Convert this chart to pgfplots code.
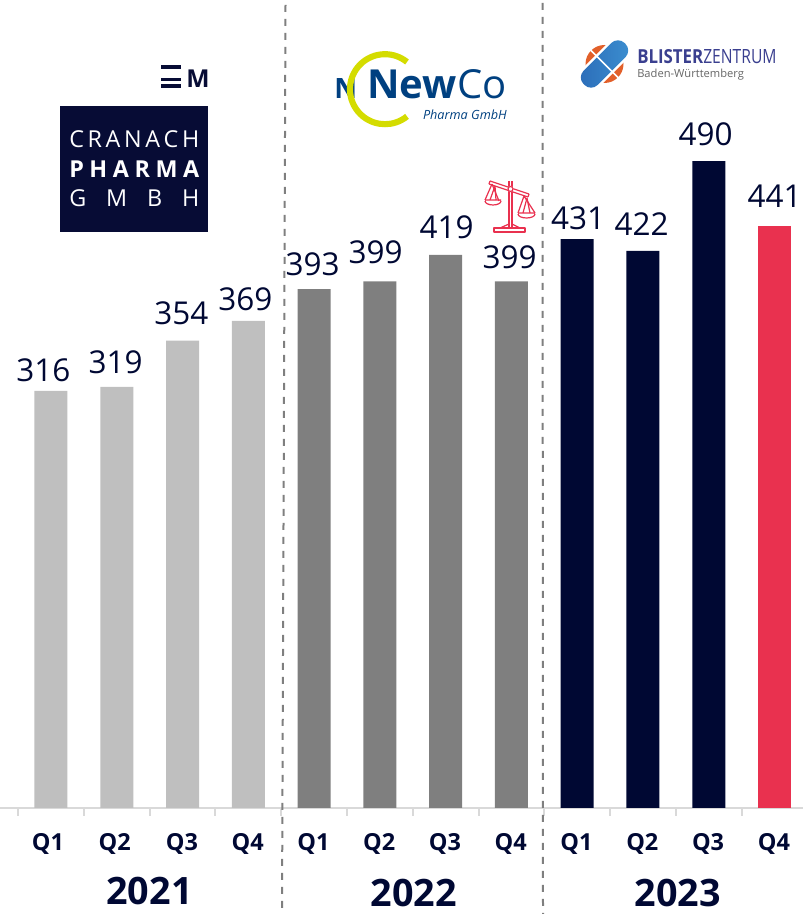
\documentclass[border=0pt]{standalone}
\usepackage{fontspec}
\setmainfont{Open Sans}
\usepackage{graphicx}
\usepackage{pgfplots}
\pgfplotsset{compat=1.18}
\usepackage{pgfplotstable}
\definecolor{navy}{HTML}{000833}
\definecolor{navyb}{HTML}{070C35}
\definecolor{lg}{HTML}{BFBFBF}
\definecolor{dg}{HTML}{7F7F7F}
\definecolor{redbar}{HTML}{E9314F}
\definecolor{axisg}{HTML}{D9D9D9}
\definecolor{lime}{HTML}{D4DC00}
\definecolor{newblue}{HTML}{004080}
\definecolor{blisterb}{HTML}{3A3F8F}
\definecolor{pillorange}{HTML}{E2602A}
\definecolor{pilla}{HTML}{2B6CB8}
\definecolor{pillb}{HTML}{3C8FD0}
\pgfplotstableread{
x y v
-0.114 331.8 316
0.981 337.9 319
1.984 375 354
2.957 385.6 369
3.976 412.1 393
4.934 421.2 399
6.013 440.2 419
6.971 417.4 399
8.013 447 431
8.978 442.4 422
9.952 510.6 490
11.0 463.6 441
}\labeltable
\begin{document}
\begin{tikzpicture}
\useasboundingbox (0,0) rectangle (602.25pt,685.5pt);
\begin{axis}[
  at={(0,0)}, anchor=south west,
  scale only axis, width=602.25pt, height=685.5pt,
  xmin=-0.775, xmax=11.433, ymin=-80.3, ymax=612.1,
  clip=false,
  axis x line=middle, axis y line=none,
  axis line style={-, draw=axisg, line width=1.5pt},
  xtick={0,...,11},
  xticklabels={\hspace{-3.5pt}Q1,\hspace{-2pt}Q2,Q3,Q4,Q1,Q2,Q3,Q4,Q1,Q2,Q3,Q4},
  major tick length=0pt,
  minor xtick={-0.5,0.5,...,11.5},
  minor tick length=6pt,
  tick align=outside,
  minor tick style={draw=axisg, line width=1.5pt},
  xticklabel style={font=\fontsize{17.6}{18}\selectfont\bfseries, text=navy, anchor=center, yshift=-27.3pt, xshift=-0.5pt, inner sep=0pt},
  every node near coord/.append style={anchor=center, inner sep=0pt, font=\fontsize{23.6}{24}\selectfont, text=navy, /pgf/number format/assume math mode=true},
]
\addplot[ybar, bar width=24.75pt, bar shift=0pt, fill=lg, draw=none] coordinates {(0,316)(1,319)(2,354)(3,369)};
\addplot[ybar, bar width=24.75pt, bar shift=0pt, fill=dg, draw=none] coordinates {(4,393)(5,399)(6,419)(7,399)};
\addplot[ybar, bar width=24.75pt, bar shift=0pt, fill=navy, draw=none] coordinates {(8,431)(9,422)(10,490)};
\addplot[ybar, bar width=24.75pt, bar shift=0pt, fill=redbar, draw=none] coordinates {(11,441)};
\addplot[draw=none, mark=none, nodes near coords, point meta=explicit symbolic] table[x=x,y=y,meta=v]{\labeltable};
\node[font=\fontsize{28.3}{29}\selectfont\bfseries, text=navy, inner sep=0pt] at (axis cs:1.498,-63.2) {2021};
\node[font=\fontsize{28.3}{29}\selectfont\bfseries, text=navy, inner sep=0pt] at (axis cs:5.513,-64.7) {2022};
\node[font=\fontsize{28.3}{29}\selectfont\bfseries, text=navy, inner sep=0pt] at (axis cs:9.526,-64.7) {2023};
\end{axis}
\begin{scope}[x=0.75pt,y=-0.75pt,yshift=685.5pt]
% separators
\draw[dg, line width=1.5pt, dash pattern=on 5.2pt off 5.3pt] (285.5,5) -- (282,914);
\draw[dg, line width=1.5pt, dash pattern=on 5.2pt off 5.3pt] (542.5,3) -- (543,914);
% EM
\fill[navyb] (161,65) rectangle (181,69);
\fill[navyb] (161,78) rectangle (181,81.5);
\fill[navyb] (161,84) rectangle (181,88);
\node[anchor=south west, inner sep=0pt, font=\fontsize{18.5}{19}\selectfont\bfseries, text=navyb] at (186,88) {M};
% Cranach
\fill[navyb] (60,106) rectangle (208,232);
\node[anchor=base west, inner sep=0pt, font=\fontsize{17.5}{18}\selectfont, text=white] at (69,148) {\makebox[97.5pt][s]{C\hfil R\hfil A\hfil N\hfil A\hfil C\hfil H}};
\node[anchor=base west, inner sep=0pt, font=\fontsize{17.5}{18}\selectfont\bfseries, text=white] at (69,178) {\makebox[97.5pt][s]{P\hfil H\hfil A\hfil R\hfil M\hfil A}};
\node[anchor=base west, inner sep=0pt, font=\fontsize{17.5}{18}\selectfont, text=white] at (69,207) {\makebox[97.5pt][s]{G\hfil M\hfil B\hfil H}};
% NewCo
\node[anchor=base west, inner sep=0pt, font=\fontsize{21}{21}\selectfont\bfseries, text=newblue] at (334,99) {N};
\draw[lime, line width=4.6pt] (407,62) arc[start angle=-51, end angle=-309, radius=35];
\node[anchor=base west, inner sep=0pt, font=\fontsize{30}{30}\selectfont\bfseries, text=newblue] at (367,98.5) {New};
\node[anchor=base west, inner sep=0pt, font=\fontsize{30}{30}\selectfont, text=newblue] at (457,98.5) {Co};
\node[anchor=base east, inner sep=0pt, font=\fontsize{9.5}{10}\selectfont\itshape, text=newblue] at (507,120) {Pharma GmbH};
% scales icon
\begin{scope}[redbar, line width=0.9pt, line join=round]
\draw (509,181) -- (509,227) (512,181) -- (512,227);
\draw (494,228) rectangle (525,232);
\draw (500,228) -- (509,224) (512,224) -- (520,228);
\draw (490,181) -- (529,194) (489,184) -- (528,197);
\draw (490,181) -- (489,184) (529,194) -- (528,197);
\fill[white] (510.5,189) circle (3);
\draw (510.5,189) circle (2.5);
\draw (492,184) -- (485,200) (492,184) -- (499,201);
\draw (495,186) -- (490,200) (495,186) -- (496,200);
\draw (485,200) -- (501,200) (485,201) arc[start angle=180, end angle=0, x radius=8, y radius=4];
\draw (524,196) -- (518,213) (524,196) -- (535,213);
\draw (527,198) -- (523,213) (527,198) -- (530,213);
\draw (518,213) -- (535,213) (518,214) arc[start angle=180, end angle=0, x radius=8.5, y radius=4];
\end{scope}
% Blister pill
\fill[pillorange] (604.5,64) circle (19);
\begin{scope}[rotate around={45:(604.5,64)}]
\fill[white] (604.5-30,64-12.5) rectangle (604.5+30,64+12.5);
\shade[left color=pilla, right color=pillb, rounded corners=7pt] (604.5-29,64-10) rectangle (604.5+29,64+10);
\fill[white] (603.7,64-22) rectangle (605.3,64+22);
\end{scope}
% Blister text
\node[anchor=base west, inner sep=0pt, text=blisterb] at (637,64) {\resizebox{49.5pt}{10.5pt}{\bfseries BLISTER}};
\node[anchor=base west, inner sep=0pt, text=blisterb] at (703,64) {\resizebox{55pt}{10.5pt}{ZENTRUM}};
\node[anchor=base west, inner sep=0pt, text=black!60] at (637,78) {\resizebox{80pt}{!}{\fontsize{9}{9}\selectfont Baden-Württemberg}};
\end{scope}
\end{tikzpicture}
\end{document}
